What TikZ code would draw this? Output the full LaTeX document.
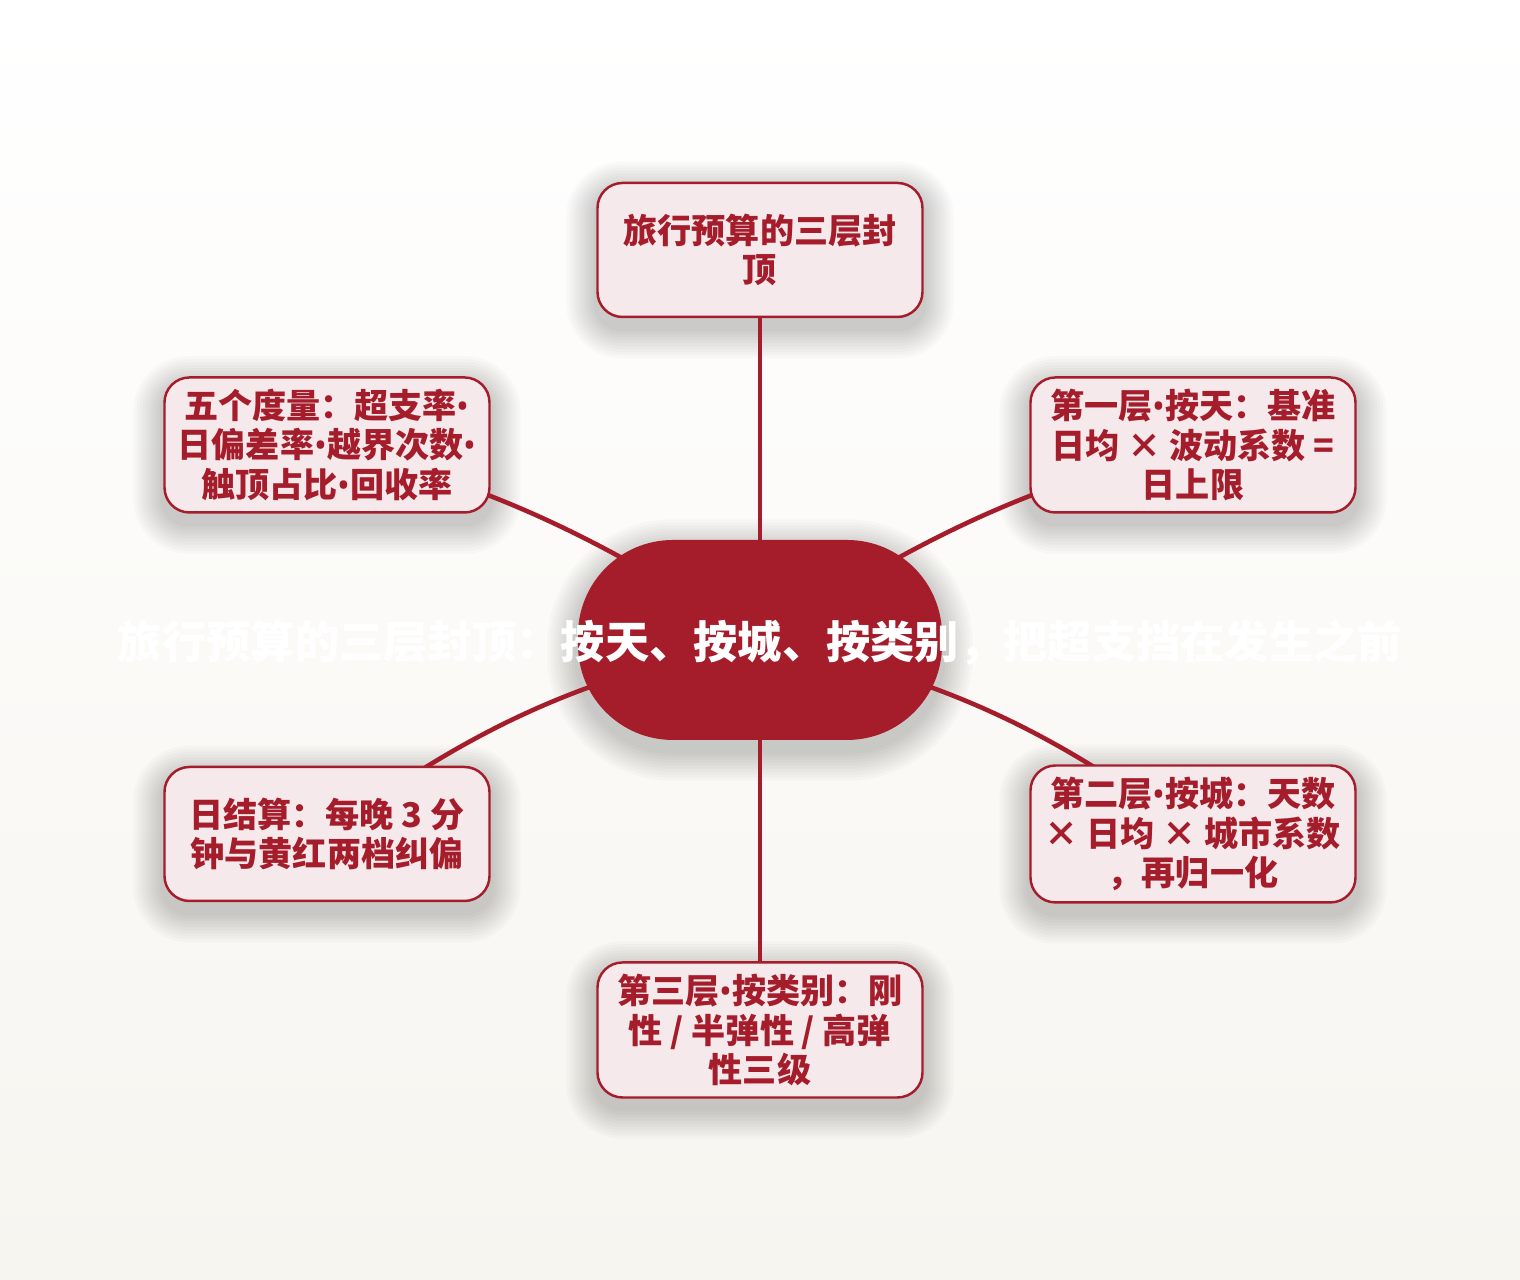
\documentclass[tikz,border=0pt]{standalone}
\usepackage{fontspec}
\setmainfont{Noto Sans CJK SC}
\newfontfamily\latinfont{Noto Sans}
\newcommand\bul{{\latinfont\bfseries •}}
\definecolor{budgetred}{RGB}{165,28,43}
\definecolor{petal}{RGB}{245,233,236}
\definecolor{paper}{RGB}{247,245,240}
\usetikzlibrary{positioning,backgrounds,calc}
\tikzstyle{hub}=[rectangle,fill=budgetred,rounded corners=.95cm,minimum
width=3.64cm,minimum height=2cm]
\tikzstyle{leaf}=[draw=budgetred,line width=.7pt,fill=petal,rounded
corners=.25cm,minimum width=3.25cm,minimum height=1.34cm,align=center,
text=budgetred,font=\bfseries\fontsize{9.7}{11.2}\selectfont]
\tikzstyle{spoke}=[draw=budgetred,line width=1.3pt]
% soft shadow below a node: #1 node, #2 corner radius in cm
\newcommand\softshadow[2]{%
  \foreach \k in {1,...,10}
    \fill[black,opacity=.02,rounded corners=#2cm+\k*.3mm]
      ($(#1.south west)+(-\k*.3mm,-\k*.3mm-1mm)$) rectangle
      ($(#1.north east)+(\k*.3mm,\k*.3mm-1mm)$);}

\begin{document}
\begin{tikzpicture}[node distance=1.2cm, on grid]
  \begin{scope}[on background layer]
    \shade[top color=white, bottom color=paper] (0,0) rectangle (15.2,12.8);
  \end{scope}
  \useasboundingbox (0,0) rectangle (15.2,12.8);

  \node[hub] (hub) at (7.6,6.4) {};
  \node[text=white, font=\bfseries\fontsize{12.6}{14}\selectfont] (title)
    at ([yshift=-.03cm]hub.center) {旅行预算的三层封顶：按天、按城、按类别，把超支挡在发生之前};

  \node[leaf, above=3.9cm of hub] (top) {旅行预算的三层封\\顶};
  \node[leaf, above left=1.95cm and 4.33cm of hub] (metrics)
    {五个度量：超支率\bul\\日偏差率\bul 越界次数\bul\\触顶占比\bul 回收率};
  \node[leaf, above right=1.95cm and 4.33cm of hub] (day)
    {第一层\bul 按天：基准\\日均 × 波动系数 =\\日上限};
  \node[leaf, below left=1.94cm and 4.33cm of hub] (settle)
    {日结算：每晚 3 分\\钟与黄红两档纠偏};
  \node[leaf, below right=1.94cm and 4.33cm of hub] (city)
    {第二层\bul 按城：天数\\× 日均 × 城市系数\\，再归一化};
  \node[leaf, below=3.9cm of hub] (kind)
    {第三层\bul 按类别：刚\\性 / 半弹性 / 高弹\\性三级};

  \begin{scope}[on background layer]
    \softshadow{hub}{.95}
    \foreach \n in {top,metrics,day,settle,city,kind}
      {\softshadow{\n}{.25}}
    \draw[spoke] (hub.center) -- (top) (hub.center) -- (kind);
    \draw[spoke] (metrics.center) to[out=-14, in=148] (hub.center);
    \draw[spoke] (day.center) to[out=194, in=32] (hub.center);
    \draw[spoke] (settle.center) to[out=36, in=192] (hub.center);
    \draw[spoke] (city.center) to[out=144, in=-12] (hub.center);
  \end{scope}
\end{tikzpicture}
\end{document}
